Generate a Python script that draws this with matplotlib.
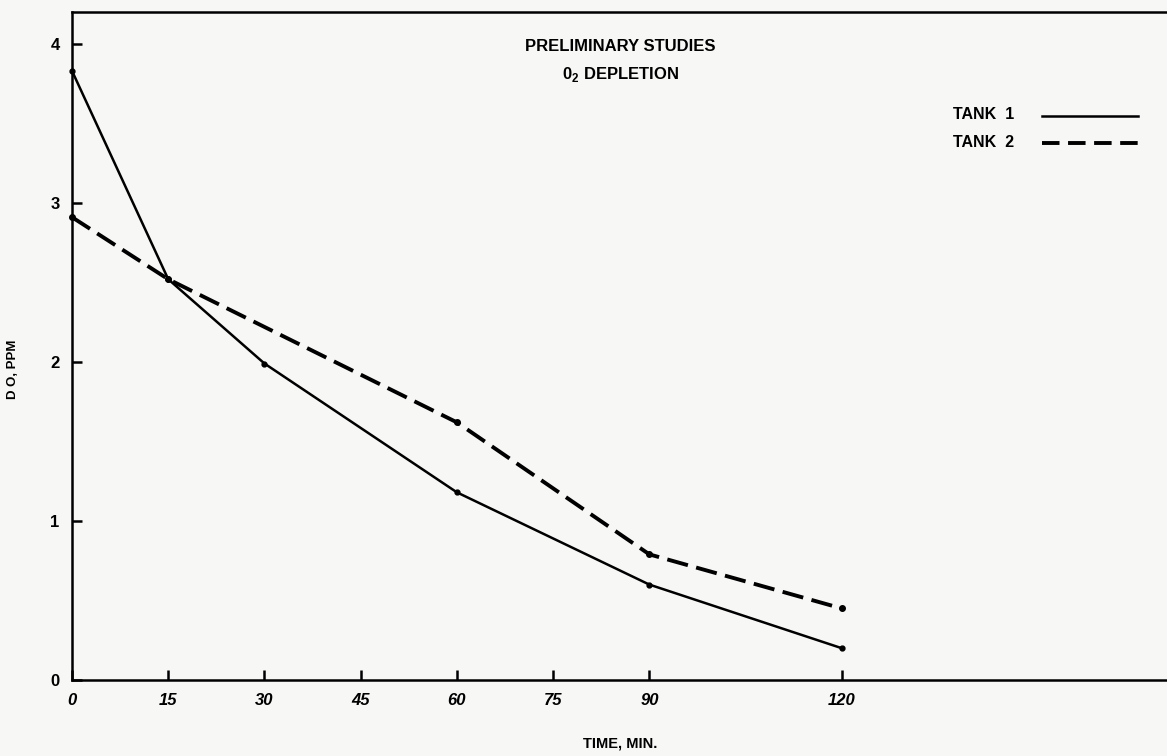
import matplotlib
matplotlib.use("Agg")
import matplotlib.pyplot as plt
from matplotlib.lines import Line2D

# Data
time_tank1 = [0, 15, 30, 60, 90, 120]
do_tank1 = [3.83, 2.52, 1.99, 1.18, 0.60, 0.20]
time_tank2 = [0, 15, 60, 90, 120]
do_tank2 = [2.91, 2.52, 1.62, 0.79, 0.45]

x_ticks = [0, 15, 30, 45, 60, 75, 90, 120]
y_ticks = [0, 1, 2, 3, 4]

plt.rcParams["font.family"] = ["Liberation Sans", "DejaVu Sans"]
plt.rcParams["font.weight"] = "bold"
plt.rcParams["mathtext.fontset"] = "custom"
plt.rcParams["mathtext.rm"] = "Liberation Sans:bold"
plt.rcParams["mathtext.bf"] = "Liberation Sans:bold"

fig = plt.figure(figsize=(11.67, 7.56), dpi=100)
fig.patch.set_facecolor("#f7f7f5")
ax = fig.add_axes([0.0617, 0.1005, 0.94, 0.8836])
ax.set_facecolor("#f7f7f5")

# Tank 1 solid, Tank 2 dashed, small dots at the data points
ax.plot(time_tank1, do_tank1, color="black", lw=1.8, solid_joinstyle="miter",
        marker="o", ms=3.5, clip_on=False)
ax.plot(time_tank2, do_tank2, color="black", lw=2.8, dashes=(5.5, 2.2),
        marker="o", ms=4, clip_on=False)

ax.set_xlim(0, 171)
ax.set_ylim(0, 4.2)
ax.set_xticks(x_ticks)
ax.set_xticklabels([str(t) for t in x_ticks], fontsize=12, fontweight="bold",
                   style="italic")
ax.set_yticks(y_ticks)
ax.set_yticklabels([str(t) for t in y_ticks], fontsize=12, fontweight="bold")
ax.tick_params(direction="in", length=7, width=1.8, pad=9)

for side in ["left", "bottom", "top"]:
    ax.spines[side].set_linewidth(1.8)
ax.spines["right"].set_visible(False)

ax.set_xlabel("TIME, MIN.", fontsize=10.5, fontweight="bold")
ax.xaxis.set_label_coords(0.50, -0.085)
ax.set_ylabel("D O, PPM", fontsize=9.5, fontweight="bold")
ax.yaxis.set_label_coords(-0.048, 0.465)

# Title inside the plot
ax.text(0.50, 0.948, "PRELIMINARY STUDIES", transform=ax.transAxes,
        ha="center", va="center", fontsize=12, fontweight="bold")
ax.text(0.50, 0.906, r"0$_\mathbf{2}$ DEPLETION", transform=ax.transAxes,
        ha="center", va="center", fontsize=12, fontweight="bold")

# Legend drawn by hand to match the original layout
ax.text(0.803, 0.846, "TANK  1", transform=ax.transAxes, ha="left",
        va="center", fontsize=11.5, fontweight="bold")
ax.text(0.803, 0.805, "TANK  2", transform=ax.transAxes, ha="left",
        va="center", fontsize=11.5, fontweight="bold")
ax.add_line(Line2D([0.884, 0.972], [0.844, 0.844], transform=ax.transAxes,
                   color="black", lw=1.8))
ax.add_line(Line2D([0.884, 0.975], [0.804, 0.804], transform=ax.transAxes,
                   color="black", lw=2.8, dashes=(4.5, 2.2)))

fig.savefig("out.png", dpi=100, facecolor=fig.get_facecolor())
